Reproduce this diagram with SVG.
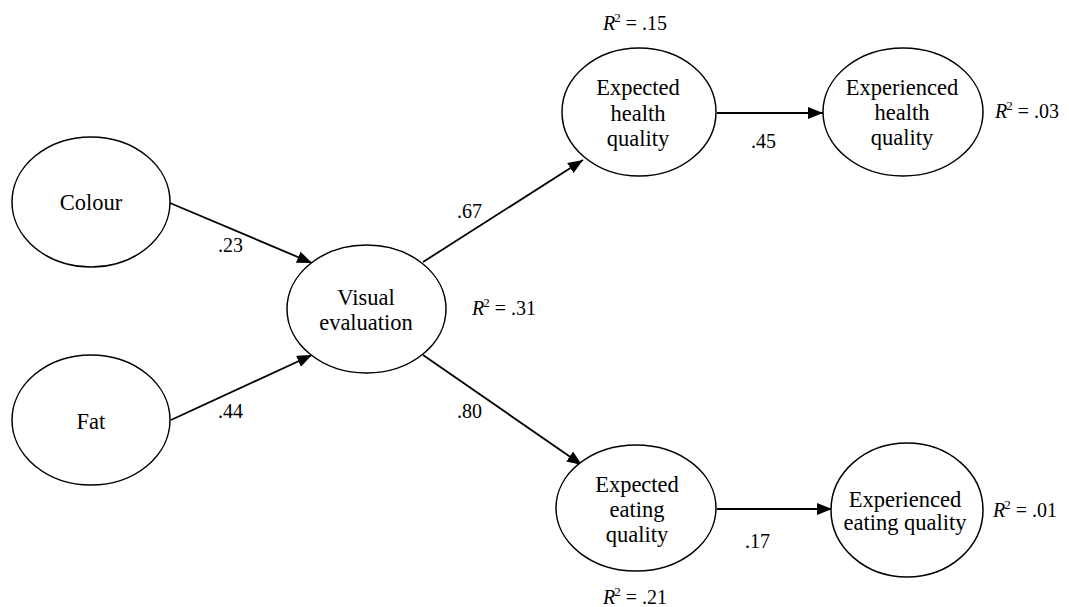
<svg xmlns="http://www.w3.org/2000/svg" width="1069" height="607" viewBox="0 0 1069 607">
<style>
.node{fill:#fff;stroke:#000;stroke-width:1.5}
.nt{font-family:"Liberation Serif","Times New Roman",serif;font-size:22.5px;fill:#000;text-anchor:middle}
.lb{font-family:"Liberation Serif","Times New Roman",serif;font-size:20px;fill:#000}
.edge{stroke:#000;stroke-width:1.8;fill:none;marker-end:url(#ah)}
.sup{font-size:13px}
</style>
<defs>
<marker id="ah" markerUnits="userSpaceOnUse" markerWidth="16" markerHeight="12" refX="15" refY="6" orient="auto">
<path d="M0,0 L15,6 L0,12 Z" fill="#000"/>
</marker>
</defs>
<rect width="1069" height="607" fill="#fff"/>
<g id="connectors">
<line class="edge" x1="170" y1="203" x2="312" y2="263"/>
<line class="edge" x1="171" y1="420" x2="312" y2="355"/>
<line class="edge" x1="423" y1="262" x2="583" y2="160"/>
<line class="edge" x1="423" y1="355" x2="582" y2="465"/>
<line class="edge" x1="717" y1="113" x2="823" y2="113"/>
<line class="edge" x1="717" y1="509" x2="832" y2="509"/>
<text class="lb" x="218" y="252">.23</text>
<text class="lb" x="218" y="418">.44</text>
<text class="lb" x="457" y="218">.67</text>
<text class="lb" x="457" y="418">.80</text>
<text class="lb" x="751" y="148">.45</text>
<text class="lb" x="745" y="548">.17</text>
</g>
<g id="colour">
<ellipse class="node" cx="91" cy="202" rx="79" ry="65"/>
<text class="nt" x="91" y="210">Colour</text>
</g>
<g id="fat">
<ellipse class="node" cx="91" cy="420" rx="79" ry="65"/>
<text class="nt" x="91" y="429">Fat</text>
</g>
<g id="visual">
<ellipse class="node" cx="366.5" cy="309" rx="79.5" ry="64"/>
<text class="nt" x="366" y="305">Visual</text>
<text class="nt" x="366" y="330">evaluation</text>
<text class="lb" x="472" y="315"><tspan font-style="italic">R</tspan><tspan class="sup" dy="-8" dx="-1">2</tspan><tspan dy="8"> = .31</tspan></text>
</g>
<g id="exp-health">
<ellipse class="node" cx="639" cy="112" rx="77" ry="64"/>
<text class="nt" x="638" y="95">Expected</text>
<text class="nt" x="638" y="121">health</text>
<text class="nt" x="638" y="146">quality</text>
<text class="lb" x="603" y="30"><tspan font-style="italic">R</tspan><tspan class="sup" dy="-8" dx="-1">2</tspan><tspan dy="8"> = .15</tspan></text>
</g>
<g id="expd-health">
<ellipse class="node" cx="903" cy="112" rx="80" ry="64"/>
<text class="nt" x="902" y="95">Experienced</text>
<text class="nt" x="902" y="120">health</text>
<text class="nt" x="902" y="145">quality</text>
<text class="lb" x="995" y="118"><tspan font-style="italic">R</tspan><tspan class="sup" dy="-8" dx="-1">2</tspan><tspan dy="8"> = .03</tspan></text>
</g>
<g id="exp-eating">
<ellipse class="node" cx="636" cy="508" rx="80" ry="63"/>
<text class="nt" x="637" y="492">Expected</text>
<text class="nt" x="637" y="517">eating</text>
<text class="nt" x="637" y="542">quality</text>
<text class="lb" x="603" y="604"><tspan font-style="italic">R</tspan><tspan class="sup" dy="-8" dx="-1">2</tspan><tspan dy="8"> = .21</tspan></text>
</g>
<g id="expd-eating">
<ellipse class="node" cx="907" cy="510" rx="76" ry="67"/>
<text class="nt" x="905" y="507">Experienced</text>
<text class="nt" x="905" y="530">eating quality</text>
<text class="lb" x="993" y="517"><tspan font-style="italic">R</tspan><tspan class="sup" dy="-8" dx="-1">2</tspan><tspan dy="8"> = .01</tspan></text>
</g>
</svg>
